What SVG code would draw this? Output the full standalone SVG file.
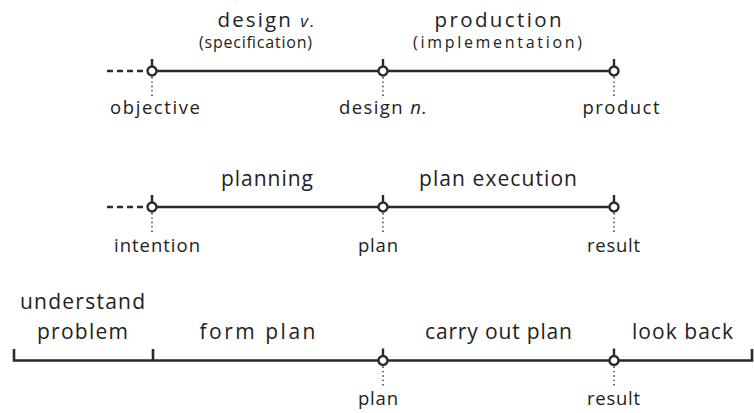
<svg xmlns="http://www.w3.org/2000/svg" width="754" height="413" viewBox="0 0 754 413">
<style>
text{font-family:"Open Sans","Noto Sans","Liberation Sans",sans-serif;fill:#222;text-anchor:middle}
.big{font-size:21px}
.head{font-size:20.5px}
.sub{font-size:16px}
.lab{font-size:18.5px}
.line{stroke:#2a2a2a;stroke-width:2.6;fill:none}
.dash{stroke:#2a2a2a;stroke-width:2.6;stroke-dasharray:6,4;fill:none}
.tick{stroke:#2a2a2a;stroke-width:2.4;fill:none}
.dot{stroke:#2a2a2a;stroke-width:1.4;stroke-dasharray:1.4,3;fill:none}
.node{fill:#fff;stroke:#2a2a2a;stroke-width:2.4}
</style>
<defs>
<g id="pt">
<line class="tick" x1="0" y1="-12" x2="0" y2="-4"/>
<line class="dot" x1="0" y1="6" x2="0" y2="28"/>
<circle class="node" r="4.5"/>
</g>
</defs>
<g id="connectors">
<line class="dash" x1="107" y1="71" x2="148" y2="71"/>
<line class="line" x1="152" y1="71" x2="614" y2="71"/>
<line class="dash" x1="107" y1="207" x2="148" y2="207"/>
<line class="line" x1="152" y1="207" x2="614" y2="207"/>
<path class="line" d="M14,349 V360.5 H752 V349 M153,349 V360.5"/>
</g>
<g id="row1">
<g id="objective"><use href="#pt" x="152" y="71"/><text class="lab" x="155" y="114" textLength="90">objective</text></g>
<g id="design-n"><use href="#pt" x="383" y="71"/><text class="lab" x="383" y="114" textLength="88">design <tspan font-style="italic">n.</tspan></text></g>
<g id="product"><use href="#pt" x="614" y="71"/><text class="lab" x="621" y="114" textLength="77">product</text></g>
<g id="design-v"><text class="head" x="266" y="27" textLength="97">design <tspan font-style="italic" font-size="17">v.</tspan></text><text class="sub" x="255.5" y="48" textLength="113">(specification)</text></g>
<g id="production"><text class="head" x="498" y="27" textLength="127">production</text><text class="sub" x="497.5" y="48" textLength="169">(implementation)</text></g>
</g>
<g id="row2">
<g id="intention"><use href="#pt" x="152" y="207"/><text class="lab" x="157" y="252" textLength="86">intention</text></g>
<g id="plan2"><use href="#pt" x="383" y="207"/><text class="lab" x="378" y="252" textLength="40">plan</text></g>
<g id="result2"><use href="#pt" x="614" y="207"/><text class="lab" x="613.5" y="252" textLength="53">result</text></g>
<text class="big" x="267" y="186" textLength="92">planning</text>
<text class="big" x="498" y="186" textLength="158">plan execution</text>
</g>
<g id="row3">
<text class="big" x="82.5" y="309" textLength="125">understand</text>
<text class="big" x="82.5" y="339" textLength="91">problem</text>
<text class="big" x="257.5" y="339" textLength="116">form plan</text>
<text class="big" x="498.5" y="339" textLength="147">carry out plan</text>
<text class="big" x="682.5" y="339" textLength="101">look back</text>
<g id="plan3"><use href="#pt" x="383" y="360.5"/><text class="lab" x="378" y="405" textLength="40">plan</text></g>
<g id="result3"><use href="#pt" x="614" y="360.5"/><text class="lab" x="613.5" y="405" textLength="53">result</text></g>
</g>
</svg>
